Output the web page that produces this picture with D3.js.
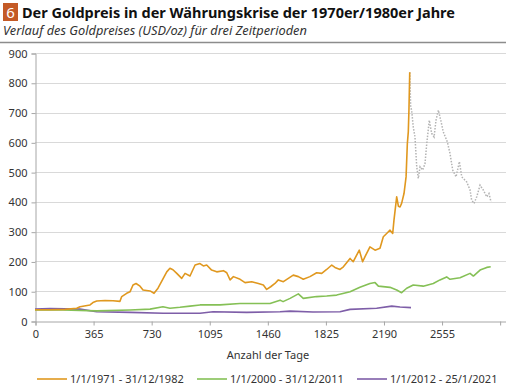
<!DOCTYPE html>
<html>
<head>
<meta charset="utf-8">
<script src="https://cdn.jsdelivr.net/npm/d3@7"></script>
<style>
    body { margin: 0; background: #fff; }
    svg text { font-family: "Noto Sans", "Open Sans", sans-serif; fill: #333; }
</style>
</head>
<body>
<svg id="drawing_region"></svg>
<script>
// Tag-Nummer und Goldpreis (USD/oz)
const days_7182 = [0, 94, 189, 262, 283, 346, 364, 388, 440, 490, 534, 545, 576, 597, 616, 635, 660, 679, 723, 748,
    773, 806, 828, 848, 867, 891, 922, 943, 974, 1006, 1037, 1058, 1079, 1110, 1142, 1184, 1205, 1226, 1247, 1289,
    1320, 1362, 1404, 1435, 1456, 1481, 1508, 1529, 1561, 1592, 1623, 1655, 1686, 1728, 1770, 1802, 1833, 1865, 1885, 1917,
    1938, 1980, 2000, 2038, 2059, 2074, 2105, 2137, 2168, 2189, 2210, 2231, 2248, 2256, 2273, 2284, 2294, 2304, 2319, 2332,
    2340, 2346, 2350, 2355];
const gold_7182 = [38, 38, 39, 43, 48, 54, 62, 67, 69, 68, 66, 82, 93, 98, 121, 126, 117, 104, 101, 93,
    110, 143, 165, 177, 172, 160, 143, 160, 151, 188, 193, 185, 188, 171, 165, 169, 162, 138, 149, 140,
    129, 132, 126, 121, 106, 115, 126, 138, 132, 143, 154, 149, 140, 149, 162, 160, 173, 188, 180, 173,
    182, 210, 199, 238, 199, 216, 249, 238, 244, 283, 294, 305, 294, 339, 417, 385, 383, 395, 428, 484,
    596, 635, 708, 835];

// Fortsetzung nach dem Hoch (grau gepunktet)
const days_after = [2355, 2361, 2367, 2377, 2388, 2399, 2409, 2420, 2437, 2451, 2462, 2478, 2493, 2508, 2520, 2535, 2550,
    2566, 2591, 2608, 2625, 2646, 2667, 2682, 2713, 2734, 2744, 2759, 2776, 2797, 2817, 2839, 2853, 2866];
const gold_after = [835, 719, 708, 652, 618, 518, 479, 518, 507, 529, 596, 674, 630, 618, 674, 708, 674,
    635, 602, 563, 507, 484, 535, 484, 467, 440, 406, 395, 417, 456, 440, 417, 428, 400];

const days_0011 = [0, 176, 388, 597, 723, 804, 848, 911, 974, 1037, 1163, 1288, 1414, 1477, 1540, 1559, 1603, 1655, 1686,
    1770, 1833, 1896, 1980, 2042, 2105, 2137, 2158, 2231, 2273, 2304, 2336, 2377, 2440, 2503, 2545, 2587, 2608, 2671,
    2734, 2755, 2797, 2839, 2864];
const gold_0011 = [37, 37, 34, 37, 40, 48, 43, 46, 50, 54, 54, 59, 59, 59, 70, 65, 76, 91, 76,
    82, 84, 87, 98, 113, 126, 129, 117, 113, 104, 95, 110, 121, 117, 126, 138, 148, 140, 145,
    160, 151, 171, 180, 182];

const days_1221 = [0, 94, 283, 388, 597, 806, 974, 1037, 1119, 1330, 1540, 1603, 1747, 1917, 1980, 2147, 2242, 2294, 2363];
const gold_1221 = [40, 42, 40, 31, 29, 26, 26, 26, 31, 29, 31, 33, 30, 31, 39, 43, 50, 47, 45];

const series_names = ['1/1/1971 - 31/12/1982', '1/1/2000 - 31/12/2011', '1/1/2012 - 25/1/2021'];
const series_colors = ['#e0981f', '#85c056', '#7e5ea8'];
const x_ticks = [0, 365, 730, 1095, 1460, 1825, 2190, 2555, 2920];
const y_ticks = [0, 100, 200, 300, 400, 500, 600, 700, 800, 900];

const zip = (xs, ys) => xs.map((d, i) => ({ x: d, y: ys[i] }));

const width = 506, height = 386;
const svg = d3.select('#drawing_region')
    .attr('width', width)
    .attr('height', height);

// Kopf
svg.append('rect')
    .attr('x', 3).attr('y', 3)
    .attr('width', 15).attr('height', 18)
    .attr('fill', '#c45a26');
svg.append('text')
    .attr('x', 10.5).attr('y', 18)
    .attr('text-anchor', 'middle')
    .style('fill', '#fff')
    .style('font-size', '15px')
    .text('6');
svg.append('text')
    .attr('x', 22).attr('y', 18)
    .style('font-size', '14.5px')
    .style('font-weight', 'bold')
    .style('fill', '#111')
    .text('Der Goldpreis in der Währungskrise der 1970er/1980er Jahre');
svg.append('text')
    .attr('x', 3).attr('y', 35)
    .style('font-size', '12.8px')
    .style('font-style', 'italic')
    .text('Verlauf des Goldpreises (USD/oz) für drei Zeitperioden');
svg.append('line')
    .attr('x1', 0).attr('x2', width)
    .attr('y1', 42.5).attr('y2', 42.5)
    .attr('stroke', '#8c8c8c')
    .attr('stroke-width', 1.5);

// Skalen
const xscale = d3.scaleLinear().domain([0, 2960]).range([35, 506]);
const yscale = d3.scaleLinear().domain([0, 900]).range([321, 53]);

// Gitter
svg.append('g')
    .selectAll('line')
    .data(y_ticks.slice(1))
    .join('line')
    .attr('x1', 35).attr('x2', 506)
    .attr('y1', d => Math.round(yscale(d)) + 0.5)
    .attr('y2', d => Math.round(yscale(d)) + 0.5)
    .attr('stroke', '#d9d9d9');

const yaxis = d3.axisLeft(yscale)
    .tickValues(y_ticks)
    .tickSize(4)
    .tickPadding(4);
const yaxis_group = svg.append('g')
    .attr('transform', 'translate(35.5, 0.5)')
    .call(yaxis);

const xaxis = d3.axisBottom(xscale)
    .tickValues(x_ticks)
    .tickFormat(d => d < 2920 ? d : '')
    .tickSize(4)
    .tickPadding(5);
const xaxis_group = svg.append('g')
    .attr('transform', 'translate(0.5, 321.5)')
    .call(xaxis);

[yaxis_group, xaxis_group].forEach(g => {
    g.select('.domain').attr('stroke', '#a6a6a6');
    g.selectAll('.tick line').attr('stroke', '#a6a6a6');
    g.selectAll('.tick text')
        .style('font-size', '11px')
        .style('font-family', '"Noto Sans", sans-serif')
        .attr('fill', '#404040');
});

// Linien
const line = d3.line()
    .x(d => xscale(d.x))
    .y(d => yscale(d.y));

svg.append('path')
    .attr('d', line(zip(days_after, gold_after)))
    .attr('fill', 'none')
    .attr('stroke', '#b3b3b3')
    .attr('stroke-width', 1.5)
    .attr('stroke-dasharray', '1.5 1.5');

const lines = [zip(days_1221, gold_1221), zip(days_0011, gold_0011), zip(days_7182, gold_7182)];
const line_colors = [series_colors[2], series_colors[1], series_colors[0]];
svg.append('g')
    .selectAll('path')
    .data(lines)
    .join('path')
    .attr('d', d => line(d))
    .attr('fill', 'none')
    .attr('stroke', (d, i) => line_colors[i])
    .attr('stroke-width', 1.6)
    .attr('stroke-linejoin', 'round');

// Achsentitel
svg.append('text')
    .attr('x', 268).attr('y', 359)
    .attr('text-anchor', 'middle')
    .style('font-size', '11px')
    .text('Anzahl der Tage');

// Legende
const legend_x = [37, 197, 357];
const legend = svg.append('g')
    .selectAll('g')
    .data(series_names)
    .join('g')
    .attr('transform', (d, i) => `translate(${legend_x[i]}, 379)`);
legend.append('line')
    .attr('x1', 0).attr('x2', 30)
    .attr('stroke', (d, i) => series_colors[i])
    .attr('stroke-width', 1.6);
legend.append('text')
    .attr('x', 33).attr('y', 4)
    .style('font-size', '11px')
    .text(d => d);
</script>
</body>
</html>
